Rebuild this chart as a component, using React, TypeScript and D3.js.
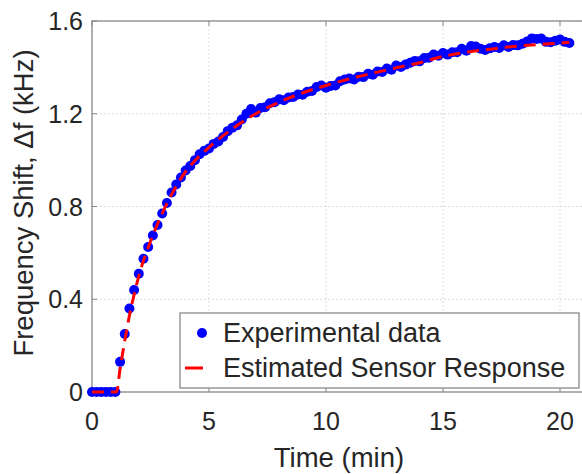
import React from "react";
import * as d3 from "d3";

const W = 582;
const H = 474;

// Experimental data (time in min, frequency shift in kHz)
const expTime = [
  0, 0.2, 0.4, 0.6, 0.8, 1.0, 1.2, 1.4, 1.6, 1.8, 2.0, 2.2, 2.4, 2.6, 2.8, 3.0, 3.2, 3.4, 3.6, 3.8,
  4.0, 4.2, 4.4, 4.6, 4.8, 5.0, 5.2, 5.4, 5.6, 5.8, 6.0, 6.2, 6.4, 6.6, 6.8, 7.0, 7.2, 7.4, 7.6, 7.8,
  8.0, 8.2, 8.4, 8.6, 8.8, 9.0, 9.2, 9.4, 9.6, 9.8, 10.0, 10.2, 10.4, 10.6, 10.8, 11.0, 11.2, 11.4, 11.6, 11.8,
  12.0, 12.2, 12.4, 12.6, 12.8, 13.0, 13.2, 13.4, 13.6, 13.8, 14.0, 14.2, 14.4, 14.6, 14.8, 15.0, 15.2, 15.4, 15.6, 15.8,
  16.0, 16.2, 16.4, 16.6, 16.8, 17.0, 17.2, 17.4, 17.6, 17.8, 18.0, 18.2, 18.4, 18.6, 18.8, 19.0, 19.2, 19.4, 19.6, 19.8,
  20.0, 20.2, 20.4,
];
const expShift = [
  0, 0, 0, 0, 0, 0, 0.13, 0.25, 0.36, 0.44, 0.51, 0.575, 0.625, 0.675, 0.72, 0.77, 0.815, 0.86, 0.895, 0.925,
  0.955, 0.975, 1.0, 1.025, 1.04, 1.05, 1.07, 1.08, 1.1, 1.125, 1.14, 1.15, 1.175, 1.2, 1.22, 1.205, 1.225, 1.228, 1.245, 1.25,
  1.262, 1.258, 1.27, 1.272, 1.283, 1.282, 1.295, 1.298, 1.315, 1.322, 1.312, 1.32, 1.322, 1.34, 1.348, 1.352, 1.348, 1.36, 1.358, 1.372,
  1.368, 1.382, 1.38, 1.395, 1.39, 1.408, 1.402, 1.412, 1.42, 1.428, 1.426, 1.44, 1.442, 1.455, 1.45, 1.462, 1.455, 1.465, 1.465, 1.48,
  1.472, 1.492, 1.49, 1.48, 1.475, 1.482, 1.488, 1.484, 1.495, 1.488, 1.496, 1.495, 1.502, 1.512, 1.525, 1.522, 1.524, 1.51, 1.508, 1.515,
  1.52, 1.51, 1.505,
];

// Estimated sensor response (fitted curve)
const fitTime = [0, 1.05, 1.2, 1.4, 1.6, 1.8, 2.0, 2.5, 3.0, 3.5, 4.0, 4.5, 5.0, 6.0, 7.0, 8.0, 9.0, 10.0, 11.0, 12.0, 13.0, 14.0, 15.0, 16.0, 17.0, 18.0, 19.0, 20.0, 20.4];
const fitShift = [0, 0, 0.1, 0.22, 0.33, 0.42, 0.5, 0.65, 0.77, 0.87, 0.95, 1.008, 1.055, 1.135, 1.2, 1.25, 1.29, 1.322, 1.35, 1.375, 1.398, 1.42, 1.447, 1.465, 1.478, 1.49, 1.498, 1.505, 1.508];

const xTicks = [0, 5, 10, 15, 20];
const yTicks = [0, 0.4, 0.8, 1.2, 1.6];
const yTickLabels = ["0", "0.4", "0.8", "1.2", "1.6"];

const legendLabels = ["Experimental data", "Estimated Sensor Response"];

const FONT = "'Liberation Sans', Arial, Helvetica, sans-serif";

export default function App() {
  const left = 92;
  const top = 21;
  const bottom = 392;
  const x = d3.scaleLinear().domain([0, 21]).range([left, left + 21 * 23.4]);
  const y = d3.scaleLinear().domain([0, 1.6]).range([bottom, top]);
  const right = x(21);

  const expData = expTime.map((t, i) => [t, expShift[i]] as [number, number]);
  const fitData = fitTime.map((t, i) => [t, fitShift[i]] as [number, number]);
  const fitLine = d3
    .line<[number, number]>()
    .x((d) => x(d[0]))
    .y((d) => y(d[1]))
    .curve(d3.curveMonotoneX);

  const axisColor = "#8a8a8a";
  const gridColor = "#dcdcdc";

  return (
    <svg
      width={W}
      height={H}
      style={{ position: "absolute", left: 0, top: 0, background: "#fff" }}
      fontFamily={FONT}
    >
      <rect x={0} y={0} width={W} height={H} fill="#fff" />
      {/* grid */}
      {xTicks.map((t) => (
        <line key={"gx" + t} x1={x(t)} x2={x(t)} y1={top} y2={bottom} stroke={gridColor} strokeWidth={1} strokeDasharray="2,2" />
      ))}
      {yTicks.map((t) => (
        <line key={"gy" + t} x1={left} x2={right} y1={y(t)} y2={y(t)} stroke={gridColor} strokeWidth={1} strokeDasharray="2,2" />
      ))}
      {/* ticks */}
      {xTicks.map((t) => (
        <g key={"tx" + t}>
          <line x1={x(t)} x2={x(t)} y1={bottom} y2={bottom - 5} stroke={axisColor} />
          <line x1={x(t)} x2={x(t)} y1={top} y2={top + 5} stroke={axisColor} />
        </g>
      ))}
      {yTicks.map((t) => (
        <line key={"ty" + t} x1={left} x2={left + 5} y1={y(t)} y2={y(t)} stroke={axisColor} />
      ))}
      {/* box */}
      <rect x={left} y={top} width={right - left} height={bottom - top} fill="none" stroke={axisColor} strokeWidth={1.3} />

      {/* data */}
      {expData.map((d, i) => (
        <circle key={i} cx={x(d[0])} cy={y(d[1])} r={5} fill="#0000ff" />
      ))}
      <path d={fitLine(fitData) || ""} fill="none" stroke="#ff0000" strokeWidth={3} strokeDasharray="12,7" />

      {/* tick labels */}
      {xTicks.map((t) => (
        <text key={"lx" + t} x={x(t)} y={430} textAnchor="middle" fontSize={25} fill="#262626">
          {t}
        </text>
      ))}
      {yTicks.map((t, i) => (
        <text key={"ly" + t} x={83} y={y(t) + 9} textAnchor="end" fontSize={25} fill="#262626">
          {yTickLabels[i]}
        </text>
      ))}

      {/* axis labels */}
      <text x={339} y={467} textAnchor="middle" fontSize={27.5} fill="#262626">
        Time (min)
      </text>
      <text transform={`translate(33, 203) rotate(-90)`} textAnchor="middle" fontSize={27.5} fill="#262626">
        Frequency Shift, Δf (kHz)
      </text>

      {/* legend */}
      <rect x={180} y={313} width={399} height={75} fill="#fff" stroke={axisColor} strokeWidth={1.3} />
      <circle cx={202} cy={333} r={5} fill="#0000ff" />
      <line x1={185} x2={203} y1={368} y2={368} stroke="#ff0000" strokeWidth={3} />
      <text x={223} y={342} fontSize={27} fill="#262626">{legendLabels[0]}</text>
      <text x={223} y={377} fontSize={27} fill="#262626">{legendLabels[1]}</text>
    </svg>
  );
}
